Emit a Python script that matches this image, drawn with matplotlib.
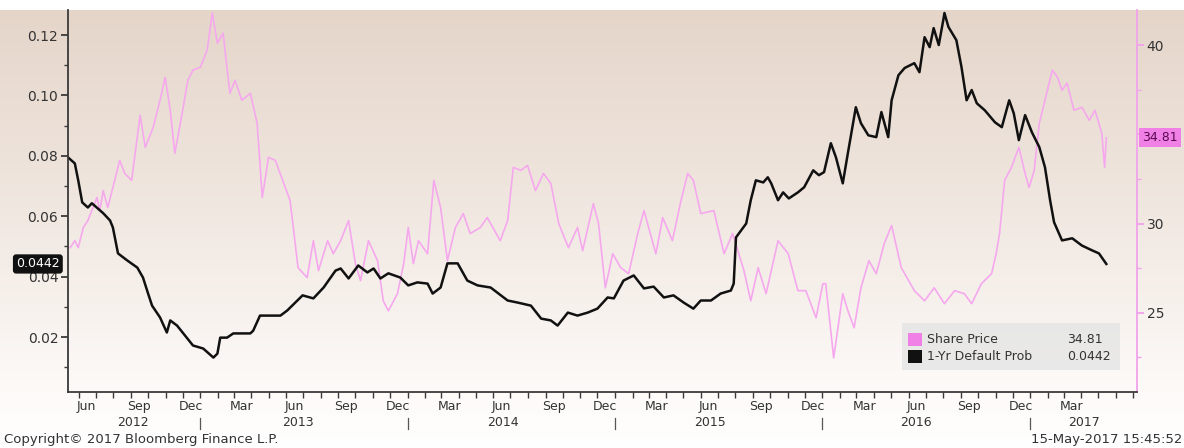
import numpy as np
import pandas as pd
import matplotlib
matplotlib.use('Agg')
import matplotlib.pyplot as plt
import matplotlib.dates as mdates
import matplotlib.transforms as mtransforms
from matplotlib.patches import Rectangle

plt.rcParams['font.family'] = ['DejaVu Sans']

# 1-Yr default probability (left axis)
prob_dates = [
    '2012-05-13', '2012-05-25', '2012-05-31', '2012-06-07', '2012-06-17', '2012-06-24', '2012-07-14', '2012-07-26', '2012-07-31', '2012-08-09',
    '2012-08-25', '2012-09-12', '2012-09-22', '2012-10-01', '2012-10-08', '2012-10-22', '2012-11-03', '2012-11-09', '2012-11-21', '2012-12-02',
    '2012-12-19', '2013-01-06', '2013-01-24', '2013-01-31', '2013-02-05', '2013-02-17', '2013-02-28', '2013-03-30', '2013-04-04', '2013-04-16',
    '2013-05-22', '2013-06-03', '2013-06-21', '2013-06-30', '2013-07-19', '2013-08-06', '2013-08-27', '2013-09-05', '2013-09-19', '2013-10-06',
    '2013-10-22', '2013-11-02', '2013-11-14', '2013-11-28', '2013-12-19', '2014-01-02', '2014-01-18', '2014-02-05', '2014-02-14', '2014-02-28',
    '2014-03-12', '2014-03-30', '2014-04-16', '2014-05-04', '2014-05-27', '2014-06-26', '2014-07-14', '2014-08-06', '2014-08-24', '2014-09-10',
    '2014-09-22', '2014-10-10', '2014-10-27', '2014-11-14', '2014-12-01', '2014-12-19', '2014-12-30', '2015-01-16', '2015-02-03', '2015-02-21',
    '2015-03-10', '2015-03-28', '2015-04-14', '2015-05-02', '2015-05-19', '2015-06-01', '2015-06-19', '2015-07-06', '2015-07-24', '2015-07-29',
    '2015-08-02', '2015-08-11', '2015-08-20', '2015-08-28', '2015-09-06', '2015-09-19', '2015-09-27', '2015-10-03', '2015-10-15', '2015-10-24',
    '2015-11-03', '2015-11-19', '2015-11-30', '2015-12-16', '2015-12-26', '2016-01-04', '2016-01-16', '2016-01-25', '2016-02-06', '2016-02-15',
    '2016-02-29', '2016-03-09', '2016-03-22', '2016-04-05', '2016-04-14', '2016-04-26', '2016-05-02', '2016-05-14', '2016-05-25', '2016-06-11',
    '2016-06-20', '2016-06-29', '2016-07-08', '2016-07-15', '2016-07-24', '2016-08-01', '2016-08-03', '2016-08-10', '2016-08-24', '2016-09-02',
    '2016-09-11', '2016-09-20', '2016-09-29', '2016-10-13', '2016-10-31', '2016-11-12', '2016-11-25', '2016-12-03', '2016-12-12', '2016-12-23',
    '2017-01-04', '2017-01-17', '2017-01-27', '2017-02-05', '2017-02-12', '2017-02-26', '2017-03-16', '2017-04-02', '2017-04-20', '2017-05-02',
    '2017-05-15',
]
prob_values = [
    0.0795, 0.0775, 0.0719, 0.0646, 0.0629, 0.0643, 0.0610, 0.0586, 0.0563, 0.0477,
    0.0454, 0.0430, 0.0397, 0.0344, 0.0304, 0.0265, 0.0215, 0.0255, 0.0238, 0.0212,
    0.0172, 0.0162, 0.0132, 0.0145, 0.0198, 0.0198, 0.0212, 0.0212, 0.0221, 0.0271,
    0.0271, 0.0288, 0.0321, 0.0338, 0.0328, 0.0364, 0.0420, 0.0427, 0.0394, 0.0437,
    0.0414, 0.0427, 0.0394, 0.0411, 0.0397, 0.0371, 0.0381, 0.0377, 0.0344, 0.0364,
    0.0444, 0.0444, 0.0387, 0.0371, 0.0364, 0.0321, 0.0314, 0.0304, 0.0261, 0.0255,
    0.0238, 0.0281, 0.0271, 0.0281, 0.0294, 0.0331, 0.0328, 0.0387, 0.0404, 0.0361,
    0.0367, 0.0331, 0.0338, 0.0314, 0.0294, 0.0321, 0.0321, 0.0344, 0.0354, 0.0377,
    0.0530, 0.0553, 0.0576, 0.0653, 0.0719, 0.0712, 0.0729, 0.0709, 0.0653, 0.0679,
    0.0659, 0.0679, 0.0696, 0.0752, 0.0736, 0.0746, 0.0842, 0.0795, 0.0709, 0.0809,
    0.0961, 0.0908, 0.0868, 0.0862, 0.0945, 0.0862, 0.0984, 0.1067, 0.1091, 0.1107,
    0.1077, 0.1193, 0.1160, 0.1223, 0.1167, 0.1250, 0.1273, 0.1227, 0.1183, 0.1094,
    0.0984, 0.1018, 0.0974, 0.0951, 0.0911, 0.0895, 0.0984, 0.0941, 0.0852, 0.0935,
    0.0878, 0.0829, 0.0762, 0.0653, 0.0580, 0.0520, 0.0527, 0.0503, 0.0487, 0.0477,
    0.0442,
]

# share price (right axis)
price_dates = [
    '2012-05-17', '2012-05-25', '2012-05-31', '2012-06-09', '2012-06-17', '2012-06-26', '2012-07-03', '2012-07-08', '2012-07-14', '2012-07-22',
    '2012-07-31', '2012-08-12', '2012-08-21', '2012-09-02', '2012-09-17', '2012-09-26', '2012-10-10', '2012-10-22', '2012-10-31', '2012-11-09',
    '2012-11-17', '2012-11-30', '2012-12-10', '2012-12-19', '2013-01-01', '2013-01-13', '2013-01-22', '2013-01-31', '2013-02-10', '2013-02-22',
    '2013-03-03', '2013-03-15', '2013-03-30', '2013-04-11', '2013-04-20', '2013-05-01', '2013-05-13', '2013-06-08', '2013-06-22', '2013-07-08',
    '2013-07-19', '2013-07-28', '2013-08-13', '2013-08-23', '2013-09-05', '2013-09-19', '2013-10-01', '2013-10-10', '2013-10-24', '2013-11-09',
    '2013-11-19', '2013-11-28', '2013-12-14', '2013-12-25', '2014-01-02', '2014-01-11', '2014-01-20', '2014-02-05', '2014-02-16', '2014-02-28',
    '2014-03-12', '2014-03-26', '2014-04-09', '2014-04-21', '2014-05-09', '2014-05-21', '2014-06-13', '2014-06-26', '2014-07-06', '2014-07-19',
    '2014-07-31', '2014-08-14', '2014-08-28', '2014-09-10', '2014-09-24', '2014-10-11', '2014-10-27', '2014-11-05', '2014-11-24', '2014-12-03',
    '2014-12-15', '2014-12-28', '2015-01-11', '2015-01-25', '2015-02-10', '2015-02-21', '2015-03-14', '2015-03-26', '2015-04-12', '2015-04-26',
    '2015-05-09', '2015-05-19', '2015-06-01', '2015-06-24', '2015-07-12', '2015-07-27', '2015-08-07', '2015-08-16', '2015-08-28', '2015-09-10',
    '2015-09-24', '2015-10-15', '2015-11-02', '2015-11-19', '2015-12-03', '2015-12-21', '2016-01-02', '2016-01-07', '2016-01-21', '2016-02-06',
    '2016-02-15', '2016-02-26', '2016-03-09', '2016-03-23', '2016-04-05', '2016-04-19', '2016-05-02', '2016-05-19', '2016-06-11', '2016-06-29',
    '2016-07-16', '2016-08-03', '2016-08-21', '2016-09-07', '2016-09-20', '2016-10-07', '2016-10-25', '2016-11-02', '2016-11-08', '2016-11-17',
    '2016-11-29', '2016-12-12', '2016-12-23', '2016-12-30', '2017-01-08', '2017-01-17', '2017-01-27', '2017-02-09', '2017-02-18', '2017-02-26',
    '2017-03-07', '2017-03-19', '2017-04-02', '2017-04-15', '2017-04-25', '2017-05-07', '2017-05-12', '2017-05-15',
]
price_values = [
    28.65, 29.04, 28.65, 29.78, 30.17, 30.90, 31.46, 30.73, 31.85, 30.90,
    32.02, 33.54, 32.81, 32.42, 36.07, 34.27, 35.39, 36.91, 38.20, 36.35,
    33.93, 36.18, 38.03, 38.60, 38.76, 39.72, 41.80, 40.11, 40.67, 37.30,
    38.03, 36.91, 37.30, 35.62, 31.46, 33.71, 33.54, 31.29, 27.53, 26.97,
    29.04, 27.36, 29.04, 28.31, 29.04, 30.17, 27.75, 26.80, 29.04, 27.92,
    25.67, 25.11, 26.07, 27.75, 29.78, 27.75, 29.04, 28.31, 32.42, 30.90,
    27.92, 29.78, 30.56, 29.44, 29.78, 30.34, 29.04, 30.17, 33.15, 32.98,
    33.26, 31.85, 32.81, 32.25, 30.00, 28.65, 29.78, 28.48, 31.12, 30.00,
    26.40, 28.31, 27.53, 27.19, 29.44, 30.73, 28.31, 30.34, 29.04, 31.12,
    32.81, 32.42, 30.56, 30.73, 28.31, 29.44, 28.31, 27.36, 25.67, 27.53,
    26.07, 29.04, 28.31, 26.24, 26.24, 24.72, 26.63, 26.63, 22.47, 26.07,
    25.11, 24.16, 26.40, 27.92, 27.19, 28.88, 29.89, 27.53, 26.24, 25.67,
    26.40, 25.51, 26.24, 26.07, 25.51, 26.63, 27.19, 28.31, 29.44, 32.42,
    33.15, 34.27, 32.81, 32.02, 32.98, 35.62, 36.91, 38.60, 38.20, 37.47,
    37.87, 36.35, 36.52, 35.79, 36.35, 35.06, 33.15, 34.81,
]

left_ticks = [0.02, 0.04, 0.06, 0.08, 0.10, 0.12]
right_ticks = [25, 30, 35, 40]
right_tick_labels = ['25', '30', '', '40']
month_label_dates = pd.date_range('2012-06-01', '2017-03-01', freq='3MS') + pd.Timedelta(days=14)
year_labels = ['2012', '2013', '2014', '2015', '2016', '2017']
year_label_dates = ['2012-09-05', '2013-06-22', '2014-06-18', '2015-06-18', '2016-06-14', '2017-04-06']
year_breaks = ['2013-01-01', '2014-01-01', '2015-01-01', '2016-01-01', '2017-01-01']

prob_x = pd.to_datetime(prob_dates)
price_x = pd.to_datetime(price_dates)

W, H = 1184, 448
fig = plt.figure(figsize=(W / 100, H / 100), dpi=100)
fig.patch.set_facecolor('white')

# tan-to-white background wash
bg = fig.add_axes([0, 0, 1, 1 - 10 / H], zorder=-10)
t = np.linspace(0, 1, 300)
stops = [0.0, 0.45, 0.87, 1.0]
cols = np.array([[229, 213, 201], [240, 231, 224], [253, 250, 248], [255, 255, 255]]) / 255
grad = np.stack([np.interp(t, stops, cols[:, i]) for i in range(3)], axis=1)
bg.imshow(grad[:, None, :], aspect='auto', extent=[0, 1, 0, 1])
bg.axis('off')

ax = fig.add_axes([68 / W, 1 - 392 / H, (1137 - 68) / W, (392 - 10) / H])
ax2 = ax.twinx()
ax.set_zorder(2)
ax2.set_zorder(1)
ax.patch.set_visible(False)
ax2.patch.set_visible(False)

ax2.plot(price_x, price_values, color='#f6a8ee', lw=1.2, solid_joinstyle='round')
ax.plot(prob_x, prob_values, color='#111111', lw=1.8, solid_joinstyle='round')

ax.set_xlim(pd.Timestamp('2012-05-13'), pd.Timestamp('2017-07-08'))
ax.set_ylim(0.0018, 0.1283)
ax2.set_ylim(20.56, 41.97)

for s in ['top', 'right']:
    ax.spines[s].set_visible(False)
for s in ['top', 'left', 'bottom']:
    ax2.spines[s].set_visible(False)
ax.spines['left'].set_color('#3a3a3a')
ax.spines['bottom'].set_color('#3a3a3a')
ax.spines['left'].set_linewidth(1.3)
ax.spines['bottom'].set_linewidth(1.3)
ax2.spines['right'].set_color('#f2a2ec')
ax2.spines['right'].set_linewidth(1.3)

ax.set_yticks(left_ticks)
ax.set_yticklabels(['%.2f' % v for v in left_ticks])
ax.yaxis.set_minor_locator(plt.MultipleLocator(0.01))
ax.tick_params(axis='y', which='major', length=5, width=1.3, color='#3a3a3a',
               labelsize=10, labelcolor='#333333', pad=2)
ax.tick_params(axis='y', which='minor', length=3, width=1, color='#3a3a3a')

ax2.set_yticks(right_ticks)
ax2.set_yticklabels(right_tick_labels)
ax2.yaxis.set_minor_locator(plt.MultipleLocator(2.5))
ax2.tick_params(axis='y', which='major', length=5, width=1.3, color='#f2a2ec',
                labelsize=10, labelcolor='#333333', pad=2)
ax2.tick_params(axis='y', which='minor', length=3, width=1, color='#f2a2ec')

ax.set_xticks(month_label_dates)
ax.xaxis.set_major_formatter(mdates.DateFormatter('%b'))
ax.xaxis.set_minor_locator(mdates.MonthLocator())
ax.tick_params(axis='x', which='major', length=0, labelsize=9, labelcolor='#333333', pad=6)
ax.tick_params(axis='x', which='minor', length=4, width=1, color='#3a3a3a')

trans = mtransforms.blended_transform_factory(ax.transData, ax.transAxes)
for lab, d in zip(year_labels, year_label_dates):
    ax.text(pd.Timestamp(d), -0.081, lab, transform=trans, ha='center', va='center',
            fontsize=9, color='#333333', clip_on=False)
for d in year_breaks:
    ax.plot([pd.Timestamp(d)] * 2, [-0.068, -0.097], transform=trans, color='#555555',
            lw=0.9, clip_on=False)

# last-value tags
ax.annotate('%.4f' % prob_values[-1], xy=(0, prob_values[-1]), xycoords=('axes fraction', 'data'),
            xytext=(-6, 0), textcoords='offset points', ha='right', va='center',
            fontsize=9, color='white', annotation_clip=False, zorder=10,
            bbox=dict(boxstyle='round,pad=0.25', fc='#111111', ec='none'))
ax2.annotate('%.2f' % price_values[-1], xy=(1, price_values[-1]), xycoords=('axes fraction', 'data'),
             xytext=(4, 0), textcoords='offset points', ha='left', va='center',
             fontsize=9, color='#5b0a52', annotation_clip=False, zorder=10,
             bbox=dict(boxstyle='square,pad=0.25', fc='#f07fe6', ec='none'))

# legend box
ax.add_patch(Rectangle((0.780, 0.058), 0.204, 0.123, transform=ax.transAxes,
                       fc='#e6e6e6', ec='none', alpha=0.85, zorder=5))
ax.add_patch(Rectangle((0.786, 0.120), 0.013, 0.034, transform=ax.transAxes,
                       fc='#f07fe6', ec='none', zorder=6))
ax.add_patch(Rectangle((0.786, 0.077), 0.013, 0.034, transform=ax.transAxes,
                       fc='#111111', ec='none', zorder=6))
ax.text(0.804, 0.137, 'Share Price', transform=ax.transAxes, ha='left', va='center',
        fontsize=9, color='#333333', zorder=7)
ax.text(0.804, 0.094, '1-Yr Default Prob', transform=ax.transAxes, ha='left', va='center',
        fontsize=9, color='#333333', zorder=7)
ax.text(0.968, 0.137, '%.2f' % price_values[-1], transform=ax.transAxes, ha='right', va='center',
        fontsize=9, color='#333333', zorder=7)
ax.text(0.975, 0.094, '%.4f' % prob_values[-1], transform=ax.transAxes, ha='right', va='center',
        fontsize=9, color='#333333', zorder=7)

fig.text(0.003, 1 - 439 / H, 'Copyright\u00a9 2017 Bloomberg Finance L.P.', ha='left', va='center',
         fontsize=9.5, color='#333333')
fig.text(0.999, 1 - 439 / H, '15-May-2017 15:45:52', ha='right', va='center',
         fontsize=9.5, color='#333333')

fig.savefig('out.png', dpi=100)
